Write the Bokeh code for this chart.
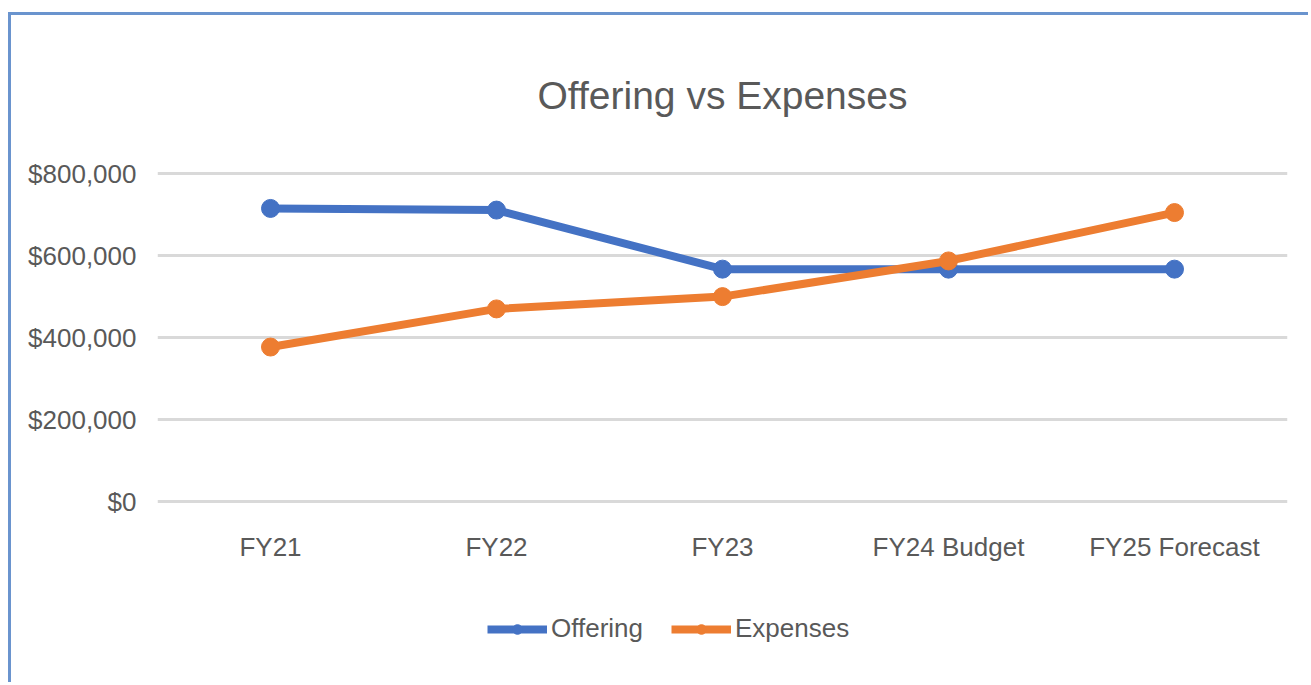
from bokeh.plotting import figure
from bokeh.models import (FixedTicker, NumeralTickFormatter, Legend, LegendItem, Title)
from bokeh.embed import file_html
from bokeh.resources import INLINE

categories = ["FY21", "FY22", "FY23", "FY24 Budget", "FY25 Forecast"]
offering = [715000, 711000, 567000, 567000, 567000]
expenses = [377000, 470000, 500000, 587000, 705000]
y_ticks = [0, 200000, 400000, 600000, 800000]

FONT = "Liberation Sans"
TXT = "#595959"
BLUE = "#4472C4"
ORANGE = "#ED7D31"

# frame runs to the bottom edge so the legend below the axis stays visible
p = figure(width=1300, height=670, x_range=categories, y_range=(-448400, 805100),
           output_backend="svg", toolbar_location=None,
           min_border_left=146, min_border_right=24, min_border_top=156,
           min_border_bottom=0)
p.styles = {"margin-left": "8px", "margin-top": "12px",
            "border-left": "3px solid #6A94CE", "border-top": "3px solid #6A94CE"}
p.x_range.range_padding = 0
p.outline_line_color = None

t = Title(text="Offering vs Expenses", align="center", text_font=FONT,
          text_font_size="39px", text_font_style="normal", text_color=TXT,
          standoff=110)
p.add_layout(t, "above")

lo = p.line(categories, offering, line_color=BLUE, line_width=8)
co = p.scatter(categories, offering, size=18, fill_color=BLUE, line_color=BLUE)
le = p.line(categories, expenses, line_color=ORANGE, line_width=8)
ce = p.scatter(categories, expenses, size=18, fill_color=ORANGE, line_color=ORANGE)

p.yaxis.ticker = FixedTicker(ticks=y_ticks)
p.yaxis.formatter = NumeralTickFormatter(format="$0,0")
for ax in (p.xaxis[0], p.yaxis[0]):
    ax.axis_line_color = None
    ax.major_tick_line_color = None
    ax.minor_tick_line_color = None
    ax.major_label_text_font = FONT
    ax.major_label_text_font_size = "26px"
    ax.major_label_text_color = TXT
p.yaxis.major_label_standoff = 15
p.xaxis.major_label_standoff = 24
p.xaxis.fixed_location = 0

p.xgrid.grid_line_color = None
p.ygrid.ticker = FixedTicker(ticks=y_ticks)
p.ygrid.grid_line_color = "#D9D9D9"
p.ygrid.grid_line_width = 3

legend = Legend(items=[LegendItem(label="Offering", renderers=[lo, co]),
                       LegendItem(label="Expenses", renderers=[le, ce])],
                orientation="horizontal", location=(330, 41),
                label_text_font=FONT, label_text_font_size="26px",
                label_text_color=TXT, glyph_width=60, glyph_height=24,
                label_standoff=4, spacing=28, border_line_color=None,
                background_fill_alpha=0, margin=0, padding=3)
p.add_layout(legend, "center")

open("out.html", "w").write(file_html(p, INLINE))
